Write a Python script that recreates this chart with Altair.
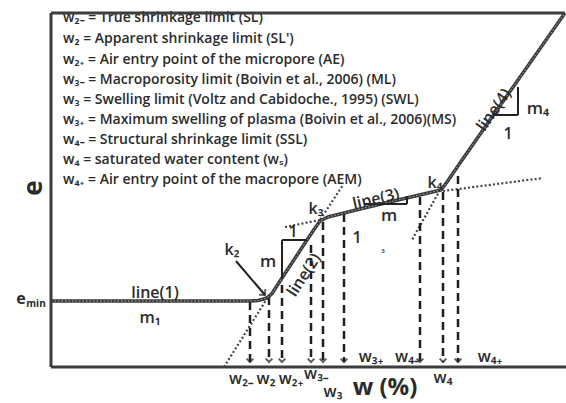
import altair as alt
import pandas as pd

W, H = 566, 403
FONT = "Open Sans"
INK = "#2b2b2b"

# ---- diagram data (w on horizontal, e on vertical; vertical measured downward in drawing units)
frame_x1 = [51, 51, 51]
frame_y1 = [13, 13, 367]
frame_x2 = [565, 51, 566]
frame_y2 = [13, 367, 367]

curve_w = [51, 250, 258, 264, 268, 272, 282, 307, 314, 320, 328, 340, 360, 400, 428, 441, 447, 460, 490, 565]
curve_e = [301, 301, 300.5, 299, 297, 293.5, 278, 240, 229.5, 221, 217, 214, 209, 199.5, 193, 190, 182, 163, 120, 13]

dot_x1 = [224, 318, 285, 443, 440]
dot_y1 = [367, 223, 227, 191, 190]
dot_x2 = [268, 343, 320, 543, 412]
dot_y2 = [297, 185, 220, 178, 240]

tri_x1 = [282, 282, 365, 407, 493, 518]
tri_y1 = [240, 240, 204, 196, 115, 87]
tri_x2 = [307, 282, 407, 407, 518, 518]
tri_y2 = [240, 278, 204, 204, 115, 115]

k2_arrow_x1, k2_arrow_y1, k2_arrow_x2, k2_arrow_y2 = [236], [261], [265], [295]

drop_w = [250, 269, 282, 311, 323, 344, 420, 443, 458]
drop_top = [302, 297, 285, 245, 222, 214, 197, 192, 176]
drop_tip = [362] * len(drop_w)

xlab_text = ["w₂₋", "w₂", "w₂₊", "w₃₋", "w₃", "w₃₊", "w₄₋", "w₄", "w₄₊"]
xlab_x = [241, 266, 291, 316, 333, 371, 407, 443, 490]
xlab_y = [379, 379, 379, 374, 392, 357, 357, 378, 357]

legend_lines = [
    "w₂₋ = True shrinkage limit (SL)",
    "w₂ = Apparent shrinkage limit (SL')",
    "w₂₊ = Air entry point of the micropore (AE)",
    "w₃₋ = Macroporosity  limit (Boivin et al., 2006) (ML)",
    "w₃ = Swelling limit (Voltz and Cabidoche., 1995) (SWL)",
    "w₃₊ = Maximum swelling of plasma (Boivin et al., 2006)(MS)",
    "w₄₋ = Structural shrinkage limit (SSL)",
    "w₄ = saturated water content (wₛ)",
    "w₄₊ = Air entry point of the macropore (AEM)",
]
legend_x = [63] * len(legend_lines)
legend_y = [18, 39, 60, 80, 100, 120, 140, 160, 180]

ann_text = ["line(1)", "m₁", "k₂", "m", "1", "line(2)", "k₃", "line(3)", "m", "1", "₃",
            "k₄", "line(4)", "m₄", "1"]
ann_x = [155, 150, 232, 268, 293, 304, 316, 376, 389, 357, 383, 435, 494, 538, 508]
ann_y = [293, 318, 250, 262, 232, 275, 209, 199, 216, 238, 249, 183, 110, 109, 134]
ann_size = [16, 16, 16, 17, 16, 16, 16, 16, 17, 16, 10, 16, 16, 17, 16]
ann_angle = [0, 0, 0, 0, 0, 303, 0, 347, 0, 0, 0, 0, 305, 0, 0]

xs = alt.Scale(domain=[0, W])
ys = alt.Scale(domain=[H, 0])


def seg_df(x1, y1, x2, y2):
    return pd.DataFrame({"x": x1, "y": y1, "x2": x2, "y2": y2})


def rules(df, **kw):
    return alt.Chart(df).mark_rule(**kw).encode(
        x=alt.X("x:Q", scale=xs, axis=None),
        y=alt.Y("y:Q", scale=ys, axis=None),
        x2="x2:Q",
        y2="y2:Q",
    )


curve_df = pd.DataFrame({"w": curve_w, "e": curve_e, "o": range(len(curve_w))})
curve_enc = dict(
    x=alt.X("w:Q", scale=xs, axis=None),
    y=alt.Y("e:Q", scale=ys, axis=None),
    order="o:Q",
)
curve = alt.Chart(curve_df).mark_line(color="#3a3a3a", strokeWidth=3.5).encode(**curve_enc)
curve_tex = alt.Chart(curve_df).mark_line(color="#b0b0b0", strokeWidth=1, strokeDash=[1.5, 2]).encode(**curve_enc)

dotted = rules(seg_df(dot_x1, dot_y1, dot_x2, dot_y2), color="#444", strokeWidth=2.2, strokeDash=[2, 2.2])
tris = rules(seg_df(tri_x1, tri_y1, tri_x2, tri_y2), color="#222", strokeWidth=2)
k2_arrow = rules(seg_df(k2_arrow_x1, k2_arrow_y1, k2_arrow_x2, k2_arrow_y2), color="#222", strokeWidth=2)
k2_head = alt.Chart(pd.DataFrame({"x": k2_arrow_x2, "y": k2_arrow_y2})).mark_point(
    shape="M -1 -1 L 0 0 L 1 -1", filled=False, stroke="#222", strokeWidth=2, size=70, angle=318
).encode(x=alt.X("x:Q", scale=xs, axis=None), y=alt.Y("y:Q", scale=ys, axis=None))

drops_df = pd.DataFrame({"x": drop_w, "y": drop_top, "x2": drop_w, "y2": drop_tip})
drops = rules(drops_df, color="#1e1e1e", strokeWidth=2.5, strokeDash=[8, 5])
heads = alt.Chart(pd.DataFrame({"x": drop_w, "y": drop_tip})).mark_point(
    shape="M -1 -1 L 0 0 L 1 -1", filled=False, stroke="#1e1e1e", strokeWidth=2, size=45
).encode(x=alt.X("x:Q", scale=xs, axis=None), y=alt.Y("y:Q", scale=ys, axis=None))

frame = rules(seg_df(frame_x1, frame_y1, frame_x2, frame_y2), color="#3d3d3d", strokeWidth=3)

legend = alt.Chart(pd.DataFrame({"x": legend_x, "y": legend_y, "t": legend_lines})).mark_text(
    align="left", baseline="middle", font=FONT, fontSize=14, fontWeight=600, color=INK
).encode(x=alt.X("x:Q", scale=xs, axis=None), y=alt.Y("y:Q", scale=ys, axis=None), text="t:N")

ann = alt.Chart(pd.DataFrame({"x": ann_x, "y": ann_y, "t": ann_text, "s": ann_size, "a": ann_angle})).mark_text(
    align="center", baseline="middle", font=FONT, fontWeight=600, color=INK
).encode(
    x=alt.X("x:Q", scale=xs, axis=None), y=alt.Y("y:Q", scale=ys, axis=None), text="t:N",
    size=alt.Size("s:Q", scale=None, legend=None), angle=alt.Angle("a:Q", scale=None),
)

xlabs = alt.Chart(pd.DataFrame({"x": xlab_x, "y": xlab_y, "t": xlab_text})).mark_text(
    align="center", baseline="middle", font=FONT, fontSize=16, fontWeight=600, color=INK
).encode(x=alt.X("x:Q", scale=xs, axis=None), y=alt.Y("y:Q", scale=ys, axis=None), text="t:N")

axis_titles = alt.Chart(pd.DataFrame({
    "x": [385, 34, 21, 36], "y": [388, 188, 299, 304], "t": ["w (%)", "e", "e", "min"],
    "s": [24, 26, 16, 10], "a": [0, 270, 0, 0],
})).mark_text(align="center", baseline="middle", font=FONT, fontWeight="bold", color=INK).encode(
    x=alt.X("x:Q", scale=xs, axis=None), y=alt.Y("y:Q", scale=ys, axis=None), text="t:N",
    size=alt.Size("s:Q", scale=None, legend=None), angle=alt.Angle("a:Q", scale=None),
)

chart = alt.layer(
    legend, dotted, drops, heads, curve, curve_tex, tris, k2_arrow, k2_head,
    ann, xlabs, axis_titles, frame,
).properties(
    width=W, height=H, autosize=alt.AutoSizeParams(type="none"), padding=0,
).configure_view(stroke=None)

chart.save("out.html", embed_options={"renderer": "svg", "actions": False})
